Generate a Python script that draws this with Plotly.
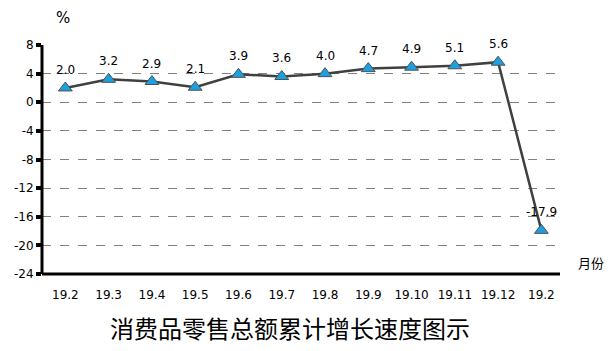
import plotly.graph_objects as go

categories = ["19.2", "19.3", "19.4", "19.5", "19.6", "19.7", "19.8", "19.9", "19.10", "19.11", "19.12", "19.2"]
values = [2.0, 3.2, 2.9, 2.1, 3.9, 3.6, 4.0, 4.7, 4.9, 5.1, 5.6, -17.9]
y_ticks = [8, 4, 0, -4, -8, -12, -16, -20, -24]
title = "消费品零售总额累计增长速度图示"

xs = list(range(len(categories)))

fig = go.Figure()
fig.add_trace(go.Scatter(
    x=xs, y=values, mode="lines+markers",
    line=dict(color="#404040", width=2.5),
    marker=dict(symbol="triangle-up", size=12, color="#1BA1E2",
                line=dict(color="#505050", width=1)),
    cliponaxis=False, showlegend=False,
))

label_annotations = [
    dict(x=x, y=v, text=f"{v:.1f}", showarrow=False, xanchor="center",
         yanchor="bottom", yshift=9,
         font=dict(family="DejaVu Sans", size=12, color="#000000"))
    for x, v in zip(xs, values)
]

fig.update_layout(
    width=610, height=351,
    margin=dict(l=42, r=50, t=45, b=77),
    paper_bgcolor="white", plot_bgcolor="white",
    xaxis=dict(
        range=[-0.54, 11.43], tickmode="array", tickvals=xs, ticktext=categories,
        showgrid=False, zeroline=False, showline=False, ticks="",
        ticklabelstandoff=12,
        tickfont=dict(family="DejaVu Sans", size=12, color="#000000"),
    ),
    yaxis=dict(
        range=[-24, 8], tickmode="array", tickvals=y_ticks,
        ticktext=[str(t) for t in y_ticks],
        showgrid=True, gridcolor="#808080", griddash="dash", gridwidth=1,
        zeroline=False, showline=False,
        ticks="outside", ticklen=5, tickwidth=4, tickcolor="black",
        tickfont=dict(family="DejaVu Sans", size=12, color="#000000"),
    ),
    shapes=[
        dict(type="line", xref="paper", yref="paper", x0=0, x1=0, y0=0, y1=1,
             line=dict(color="black", width=3)),
        dict(type="line", xref="paper", yref="paper", x0=0, x1=1, y0=0, y1=0,
             line=dict(color="black", width=3)),
    ],
    annotations=label_annotations + [
        dict(text="%", xref="paper", yref="paper", x=0.04, y=1.07, xanchor="center",
             yanchor="bottom", showarrow=False,
             font=dict(family="DejaVu Sans", size=15, color="black")),
        dict(text="月份", xref="paper", yref="paper", x=1.03, y=0.05, xanchor="left",
             yanchor="middle", showarrow=False,
             font=dict(family="Noto Sans CJK SC", size=13, color="black")),
        dict(text=title, xref="paper", yref="paper", x=0.479, y=-0.235, xanchor="center",
             yanchor="middle", showarrow=False,
             font=dict(family="Noto Sans CJK SC", size=24, color="black")),
    ],
)

fig.write_html("out.html")
